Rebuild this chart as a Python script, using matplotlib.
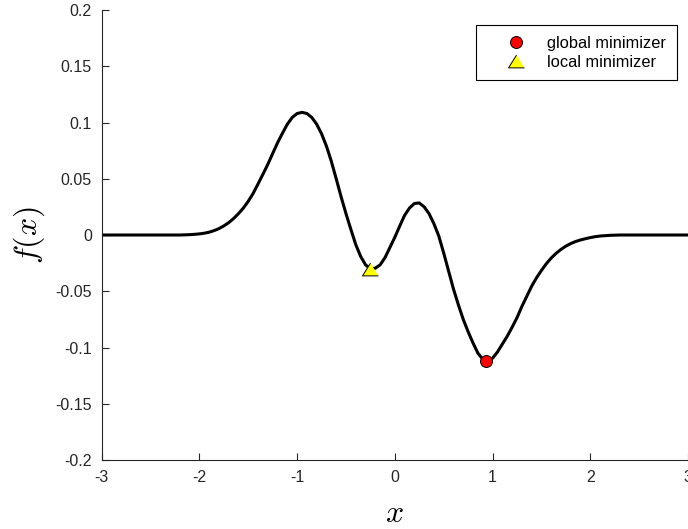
import matplotlib.pyplot as plt
from matplotlib.lines import Line2D

plt.rcParams['font.family'] = ['Liberation Sans', 'DejaVu Sans']
plt.rcParams['mathtext.fontset'] = 'cm'

# sampled values of f(x), denser where the curve bends
x_vals = [-3.0, -2.8, -2.6, -2.4, -2.3, -2.2, -2.1, -2.05,
          -2.0, -1.95, -1.9, -1.85, -1.8, -1.75, -1.7, -1.65, -1.6, -1.55,
          -1.5, -1.45, -1.4, -1.35, -1.3, -1.25, -1.2, -1.15,
          -1.1, -1.05, -1.0, -0.95, -0.9, -0.85, -0.8, -0.75, -0.7, -0.65,
          -0.6, -0.55, -0.5, -0.45, -0.4, -0.35, -0.3, -0.25, -0.2, -0.15,
          -0.1, -0.05, 0.0, 0.05, 0.1, 0.15, 0.2, 0.25, 0.3, 0.35,
          0.4, 0.45, 0.5, 0.55, 0.6, 0.65, 0.7, 0.75, 0.8, 0.85,
          0.9, 0.95, 1.0, 1.05, 1.1, 1.15, 1.2, 1.25, 1.3, 1.35,
          1.4, 1.45, 1.5, 1.55, 1.6, 1.65, 1.7, 1.75, 1.8, 1.85,
          1.9, 1.95, 2.0, 2.05, 2.1, 2.2, 2.3, 2.4, 2.6, 2.8, 3.0]
f_vals = [0.0, 0.0, 0.0, 0.0, 0.0, 0.0, 0.0003, 0.0006,
          0.001, 0.0016, 0.0025, 0.0039, 0.0057, 0.0081, 0.011, 0.0147, 0.019, 0.024,
          0.030, 0.037, 0.0454, 0.054, 0.0628, 0.0725, 0.082, 0.0905,
          0.0985, 0.1045, 0.108, 0.109, 0.108, 0.1045, 0.0985, 0.090, 0.079, 0.0655,
          0.050, 0.034, 0.019, 0.005, -0.0085, -0.019, -0.0265, -0.030, -0.0295, -0.0265,
          -0.020, -0.011, -0.002, 0.008, 0.0175, 0.024, 0.028, 0.0285, 0.025, 0.019,
          0.010, -0.001, -0.016, -0.032, -0.048, -0.062, -0.075, -0.086, -0.096, -0.105,
          -0.1105, -0.112, -0.1095, -0.104, -0.097, -0.090, -0.082, -0.0735, -0.0635, -0.0545,
          -0.0455, -0.038, -0.0315, -0.0255, -0.0205, -0.0163, -0.0128, -0.0099, -0.0076, -0.0058,
          -0.0044, -0.0033, -0.0023, -0.0015, -0.0009, -0.0003, 0.0, 0.0, 0.0, 0.0, 0.0]

glob_x, glob_y = 0.93, -0.112
loc_x, loc_y = -0.25, -0.030

xticks = [-3, -2, -1, 0, 1, 2, 3]
yticks = [-0.2, -0.15, -0.1, -0.05, 0, 0.05, 0.1, 0.15, 0.2]
ytick_labels = ['-0.2', '-0.15', '-0.1', '-0.05', '0', '0.05', '0.1', '0.15', '0.2']

axis_gray = (0.15, 0.15, 0.15)
tri = [(0, 0.8), (-1, -0.8), (1, -0.8)]

fig = plt.figure(figsize=(6.88, 5.29), dpi=100)
ax = fig.add_axes([0.1478, 0.1304, 0.8522, 0.8507])

ax.plot(x_vals, f_vals, color='k', lw=2.2, solid_joinstyle='round', zorder=2)
ax.plot(glob_x, glob_y, 'o', ms=8.6, mfc='red', mec='k', mew=0.7, zorder=3)
ax.plot(loc_x, loc_y, marker=tri, ls='none', ms=11.5, mfc='yellow', mec='k', mew=0.7, zorder=3)

ax.set_xlim(-3, 3)
ax.set_ylim(-0.2, 0.2)
ax.set_xticks(xticks)
ax.set_xticklabels([str(t) for t in xticks])
ax.set_yticks(yticks)
ax.set_yticklabels(ytick_labels)
ax.tick_params(direction='in', length=5, width=0.8, colors=axis_gray,
               labelsize=11.5, pad=7)

for side in ['top', 'right']:
    ax.spines[side].set_visible(False)
for side in ['left', 'bottom']:
    ax.spines[side].set_color(axis_gray)
    ax.spines[side].set_linewidth(0.8)

ax.set_xlabel('$x$', fontsize=23)
ax.xaxis.set_label_coords(0.5, -0.12)
ax.xaxis.label.set_va('center')
ax.set_ylabel('$f(x)$', fontsize=23)
ax.yaxis.set_label_coords(-0.124, 0.5)
ax.yaxis.label.set_va('center')

handles = [
    Line2D([], [], ls='none', marker='o', ms=8.6, mfc='red', mec='k', mew=0.7),
    Line2D([], [], ls='none', marker=tri, ms=11.5, mfc='yellow', mec='k', mew=0.7),
]
leg = ax.legend(handles, ['global minimizer', 'local minimizer'],
                loc='upper left', bbox_to_anchor=(0.6384, 0.9667),
                fontsize=11.8, frameon=True, fancybox=False, edgecolor='k',
                framealpha=1, borderpad=0.65, handletextpad=0.15,
                handlelength=3.55, labelspacing=0.25, borderaxespad=0)
leg.get_frame().set_linewidth(0.8)

fig.savefig('out.png', dpi=100)
